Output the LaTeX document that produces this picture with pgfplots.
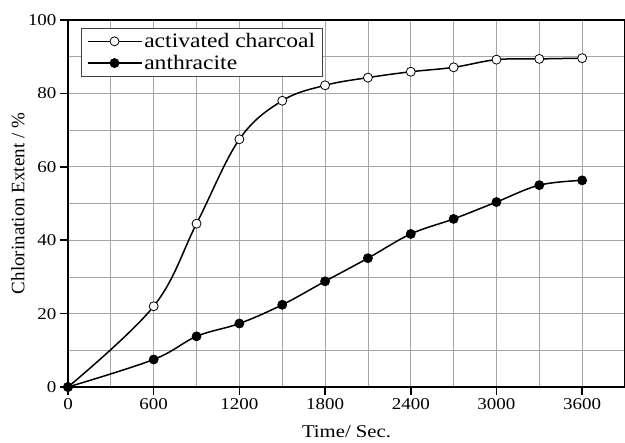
\documentclass[border=0pt]{standalone}
\usepackage{pgfplots}
\pgfplotsset{compat=1.18}
\usepackage{fontspec}
\setmainfont[FakeStretch=1.15]{Liberation Serif}
\newfontfamily\sserif[FakeStretch=1.15]{Liberation Serif}
\newfontfamily\pserif{Liberation Serif}
\pgfplotstableread{
x y
0 0
600 22
900 44.5
1200 67.5
1500 78
1800 82.2
2100 84.3
2400 85.9
2700 87.1
3000 89.2
3300 89.4
3600 89.6
}\charcoal
\pgfplotstableread{
x y
0 0
600 7.5
900 13.8
1200 17.3
1500 22.4
1800 28.8
2100 35.1
2400 41.7
2700 45.8
3000 50.4
3300 55.0
3600 56.3
}\anthracite
\begin{document}
\begin{tikzpicture}
\begin{axis}[
  scale only axis,
  width=557pt, height=367pt,
  xmin=0, xmax=3900, ymin=0, ymax=100,
  xtick={0,600,...,3600},
  minor xtick={300,900,...,3900},
  ytick={0,20,...,100},
  minor ytick={10,30,...,90},
  grid=both,
  major grid style={black!35, line width=0.8pt},
  minor grid style={black!35, line width=0.8pt},
  tick pos=left,
  tick align=outside,
  major tick length=8pt,
  minor tick length=0pt,
  tick style={black, line width=1.6pt},
  axis line style={line width=1.6pt},
  /pgf/number format/assume math mode=true,
  /pgf/number format/1000 sep={},
  ticklabel style={font=\sserif\fontsize{16.5}{18}\selectfont},
  xlabel={Time/ Sec.},
  ylabel={Chlorination Extent / \%},
  xlabel style={font=\sserif\fontsize{18}{20}\selectfont, at={(axis description cs:0.5,0)}, anchor=base, yshift=-50pt},
  ylabel style={font=\pserif\fontsize{19}{21}\selectfont, at={(axis description cs:0,0.5)}, anchor=center, rotate=0, yshift=50pt},
  legend style={at={(0.024,0.978)}, anchor=north west, draw=black!75, line width=0.8pt,
    font=\sserif\fontsize{20.5}{23}\selectfont, inner xsep=5pt, inner ysep=3pt,
    row sep=2pt},
  legend cell align=left,
  legend image code/.code={%
    \draw[black, line width=1.5pt] (0pt,0pt) -- (54pt,0pt);
    \path[mark repeat=2, mark phase=2, #1] plot coordinates {(0pt,0pt) (27pt,0pt) (54pt,0pt)};},
]
\addplot[black, line width=1.5pt, smooth, tension=0.6, forget plot] table {\charcoal};
\addplot[black, only marks, mark=*, mark size=4.5pt, mark options={fill=white, line width=0.8pt}, forget plot] table {\charcoal};
\addplot[black, line width=1.5pt, smooth, tension=0.6, forget plot] table {\anthracite};
\addplot[black, only marks, mark=*, mark size=4.5pt, mark options={fill=black, line width=0.8pt}, forget plot] table {\anthracite};
\addlegendimage{black, mark=*, mark size=4.5pt, mark options={fill=white, line width=0.8pt}}
\addlegendentry{activated charcoal}
\addlegendimage{black, mark=*, mark size=4.5pt, mark options={fill=black, line width=0.8pt}}
\addlegendentry{anthracite}
\end{axis}
\pgfresetboundingbox
\path[use as bounding box] ([xshift=-68pt,yshift=-55pt]current axis.south west) rectangle ([yshift=20pt]current axis.north east);
\end{tikzpicture}
\end{document}
